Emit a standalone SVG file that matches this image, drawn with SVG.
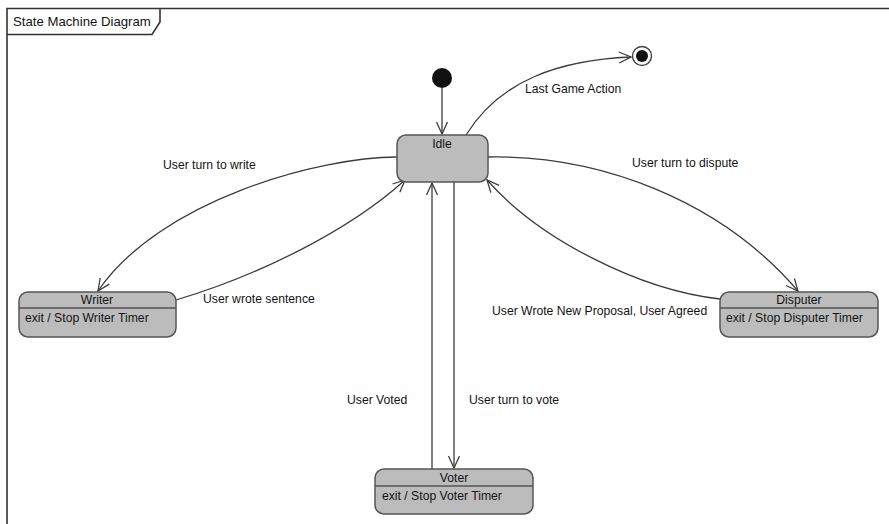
<svg xmlns="http://www.w3.org/2000/svg" width="889" height="524" viewBox="0 0 889 524">
  <style>
    .frame { fill: none; stroke: #333; stroke-width: 1.6; }
    .state { fill: #bcbcbc; stroke: #555; stroke-width: 1.5; }
    .sep { stroke: #555; stroke-width: 1.3; }
    .edge { fill: none; stroke: #3c3c3c; stroke-width: 1.3; }
    text { font-family: "Liberation Sans", Arial, sans-serif; font-size: 12.2px; fill: #141414; }
    .title { font-size: 13.2px; }
    .name { text-anchor: middle; }
  </style>
  <defs>
    <marker id="open" markerUnits="userSpaceOnUse" markerWidth="14" markerHeight="12" refX="12" refY="6" orient="auto" overflow="visible">
      <path d="M0,0.5 L12,6 L0,11.5" fill="none" stroke="#3c3c3c" stroke-width="1.3"/>
    </marker>
  </defs>
  <rect width="889" height="524" fill="#fff"/>

  <!-- diagram frame with name tab -->
  <g id="frame">
    <path class="frame" d="M7,524 V8.5 H889"/>
    <path class="frame" d="M7,34.5 H152 L160,22 V8.5"/>
    <text class="title" x="13" y="26">State Machine Diagram</text>
  </g>

  <!-- transitions -->
  <g id="connectors">
    <path class="edge" d="M442,88 V134" marker-end="url(#open)"/>
    <path class="edge" d="M466,135 C500,80 560,60 631,57" marker-end="url(#open)"/>
    <path class="edge" d="M397,157 C320,157 160,200 98,291" marker-end="url(#open)"/>
    <path class="edge" d="M176,300 C260,275 350,230 405,180" marker-end="url(#open)"/>
    <path class="edge" d="M488,157 C600,155 720,200 798,291" marker-end="url(#open)"/>
    <path class="edge" d="M720,299 C640,290 540,240 487,180" marker-end="url(#open)"/>
    <path class="edge" d="M432,469 V183" marker-end="url(#open)"/>
    <path class="edge" d="M454,182 V468" marker-end="url(#open)"/>
  </g>

  <!-- transition labels -->
  <g id="labels">
    <text x="525" y="93">Last Game Action</text>
    <text x="163" y="169">User turn to write</text>
    <text x="203" y="303">User wrote sentence</text>
    <text x="632" y="167">User turn to dispute</text>
    <text x="492" y="315">User Wrote New Proposal, User Agreed</text>
    <text x="347" y="404">User Voted</text>
    <text x="469" y="404">User turn to vote</text>
  </g>

  <g id="initial">
    <circle cx="442" cy="78" r="10" fill="#111"/>
  </g>

  <g id="final">
    <circle cx="642" cy="56" r="9.5" fill="#fff" stroke="#444" stroke-width="1.4"/>
    <circle cx="642" cy="56" r="6" fill="#111"/>
  </g>

  <g id="idle">
    <rect class="state" x="397" y="135" width="91" height="47" rx="9"/>
    <text class="name" x="442" y="148">Idle</text>
  </g>

  <g id="writer">
    <rect class="state" x="19" y="292" width="157" height="45" rx="9"/>
    <line class="sep" x1="19" y1="308" x2="176" y2="308"/>
    <text class="name" x="97" y="304">Writer</text>
    <text x="25" y="322">exit / Stop Writer Timer</text>
  </g>

  <g id="disputer">
    <rect class="state" x="720" y="292" width="158" height="45" rx="9"/>
    <line class="sep" x1="720" y1="308" x2="878" y2="308"/>
    <text class="name" x="799" y="304">Disputer</text>
    <text x="726" y="322">exit / Stop Disputer Timer</text>
  </g>

  <g id="voter">
    <rect class="state" x="375" y="469" width="158" height="45" rx="9"/>
    <line class="sep" x1="375" y1="486" x2="533" y2="486"/>
    <text class="name" x="454" y="482">Voter</text>
    <text x="382" y="500">exit / Stop Voter Timer</text>
  </g>
</svg>
